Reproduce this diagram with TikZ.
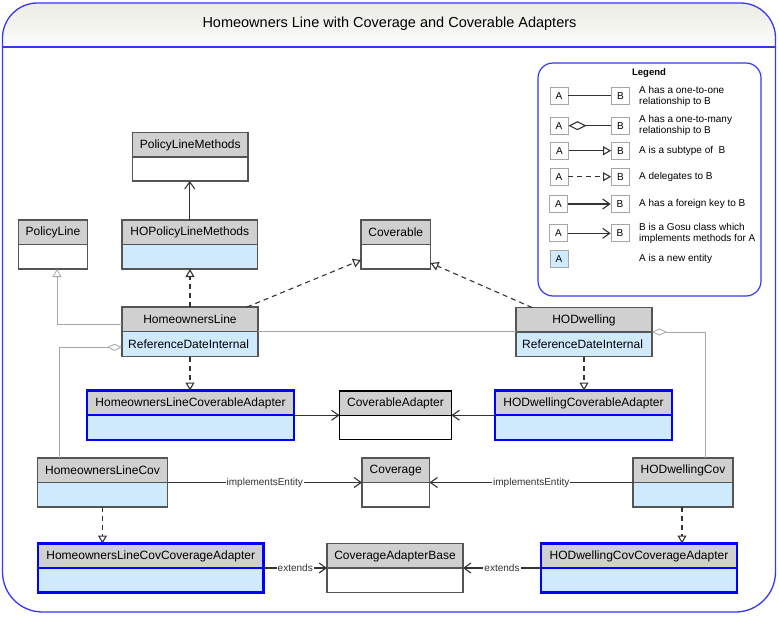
\documentclass[tikz,border=0pt]{standalone}
\usepackage{fontspec}
\setmainfont{Liberation Sans}
\usetikzlibrary{arrows.meta,calc}
\definecolor{hdrgray}{HTML}{D0D0D0}
\definecolor{newblue}{HTML}{CFEAFD}
\definecolor{boxline}{HTML}{555555}
\definecolor{connline}{HTML}{333333}
\definecolor{relgray}{HTML}{A6A6A6}
\definecolor{frameblue}{HTML}{3737F5}
\definecolor{adblue}{HTML}{0000FF}
\definecolor{titletop}{HTML}{ECECE6}
\definecolor{titlebot}{HTML}{FBFBF8}

\tikzset{
  boxtext/.style={font=\fontsize{12}{14}\selectfont, inner sep=0pt, text=black},
  plainbox/.style={draw=boxline, line width=1.2pt},
  adbox/.style={draw=adblue, line width=2.8pt},
  conn/.style={draw=connline, line width=1.1pt},
  dashconn/.style={conn, dash pattern=on 5pt off 4pt},
  relline/.style={draw=relgray, line width=0.8pt},
  tri/.tip={Triangle[open, length=8pt, width=9pt]},
  vee/.tip={Straight Barb[length=7pt, width=10pt]},
  dia/.tip={Diamond[open, length=15pt, width=7pt]},
  legdia/.tip={Diamond[open, length=18pt, width=9pt]},
  lbl/.style={fill=white, inner xsep=1pt, inner ysep=0pt, text=connline, font=\fontsize{10}{12}\selectfont},
  legtext/.style={font=\fontsize{10}{11.6}\selectfont, anchor=west, align=left, inner sep=0pt, text=black},
  legbox/.style={draw=relgray, line width=0.8pt, fill=white, minimum width=18pt, minimum height=17pt, inner sep=0pt, font=\fontsize{10}{12}\selectfont},
}

% #1 body fill, #2 border style, #3 name, #4 x1, #5 y1, #6 x2, #7 y2, #8 title, #9 body text
\newcommand{\umlclass}[9]{%
  \fill[#1] (#4,#5) rectangle (#6,#7);
  \fill[hdrgray] (#4,#5) rectangle (#6,#5+24.5);
  \draw[#2] (#4,#5+24.5) -- (#6,#5+24.5);
  \node[draw, #2, inner sep=0pt, outer sep=0pt, minimum width={(#6-#4)*1pt}, minimum height={(#7-#5)*1pt}, anchor=north west] (#3) at (#4,#5) {};
  \node[boxtext] at ({(#4+#6)/2},#5+12.5) {#8};
  \node[boxtext, anchor=west] at (#4+6,#5+37) {#9};
}

\begin{document}
\begin{tikzpicture}[x=1pt, y=-1pt]
\useasboundingbox (0,0) rectangle (779,616);
\fill[white] (0,0) rectangle (779,616);

% title band
\shade[top color=titletop, bottom color=titlebot] (2.5,47) -- (2.5,38) arc[start angle=180, end angle=90, radius=35pt] -- (740.5,3) arc[start angle=90, end angle=0, radius=35pt] -- (775.5,47) -- cycle;
\draw[frameblue, line width=1.2pt] (2.5,47) -- (775.5,47);
% frame
\draw[frameblue, line width=1.3pt] (2.5,38) arc[start angle=180, end angle=90, radius=35pt] -- (740.5,3) arc[start angle=90, end angle=0, radius=35pt] -- (775.5,572) arc[start angle=0, end angle=-90, radius=40pt] -- (42.5,612) arc[start angle=-90, end angle=-180, radius=40pt] -- cycle;
\node[font=\fontsize{14.5}{17}\selectfont, inner sep=0pt] (title) at (389.5,24) {Homeowners Line with Coverage and Coverable Adapters};

% classes
\umlclass{fill=white}{plainbox}{PLM}{132.5}{132.5}{248}{181}{PolicyLineMethods}{}
\umlclass{fill=white}{plainbox}{PL}{18.5}{220}{87.5}{269}{PolicyLine}{}
\umlclass{fill=newblue}{plainbox}{HOPLM}{122}{220}{257.5}{269}{HOPolicyLineMethods}{}
\umlclass{fill=white}{plainbox}{COV}{361}{220}{430.5}{269}{Coverable}{}
\umlclass{fill=newblue}{plainbox}{HL}{122}{307}{258}{356.5}{HomeownersLine}{ReferenceDateInternal}
\umlclass{fill=newblue}{plainbox}{HD}{516}{307.5}{652}{356.5}{HODwelling}{ReferenceDateInternal}
\umlclass{fill=newblue}{adbox}{HLCA}{87}{390.5}{294}{440}{HomeownersLineCoverableAdapter}{}
\umlclass{fill=white}{plainbox,draw=black}{CA}{339.5}{391}{451.5}{439.5}{CoverableAdapter}{}
\umlclass{fill=newblue}{adbox}{HDCA}{495}{390.5}{672}{440}{HODwellingCoverableAdapter}{}
\umlclass{fill=newblue}{plainbox}{HLC}{37.5}{458}{167.5}{507}{HomeownersLineCov}{}
\umlclass{fill=white}{plainbox}{CVG}{362}{458}{429.5}{507}{Coverage}{}
\umlclass{fill=newblue}{plainbox}{HDC}{633}{458}{733}{507}{HODwellingCov}{}
\umlclass{fill=newblue}{adbox}{HLCCA}{38}{543.5}{263.5}{592.5}{HomeownersLineCovCoverageAdapter}{}
\umlclass{fill=white}{plainbox}{CAB}{327}{543.5}{463}{592.5}{CoverageAdapterBase}{}
\umlclass{fill=newblue}{adbox}{HDCCA}{541}{543.5}{737}{592.5}{HODwellingCovCoverageAdapter}{}

% connectors
\draw[conn, -vee] (HOPLM.north) -- (HOPLM.north |- PLM.south);
\draw[dashconn, -tri] (HL.north) -- (HL.north |- HOPLM.south);
\draw[dashconn, -tri] ([xshift=57pt]HL.north) -- ([yshift=9pt]COV.south west);
\draw[dashconn, -tri] ([xshift=-52pt]HD.north) -- ([yshift=6pt]COV.south east);
\draw[relline, -tri] ([yshift=7.5pt]HL.west) -| ([xshift=4pt]PL.south);
\draw[relline] (HL.east) -- (HL.east -| HD.west);
\draw[relline, dia-] ([yshift=-15.5pt]HL.west) -| ([xshift=21.5pt]HLC.north west);
\draw[relline, dia-] (HD.east) -| ([xshift=72pt]HDC.north west);
\draw[dashconn, -tri] (HL.south) -- (HL.south |- HLCA.north);
\draw[dashconn, -tri] (HD.south) -- (HD.south |- HDCA.north);
\draw[conn, -vee] (HLCA.east) -- (HLCA.east -| CA.west);
\draw[conn, -vee] (HDCA.west) -- (HDCA.west -| CA.east);
\draw[conn, -vee] (HLC.east) -- node[lbl]{implementsEntity} (HLC.east -| CVG.west);
\draw[conn, -vee] (HDC.west) -- node[lbl]{implementsEntity} (HDC.west -| CVG.east);
\draw[dashconn, -tri] (HLC.south) -- (HLC.south |- HLCCA.north);
\draw[dashconn, -tri] ([xshift=-1pt]HDC.south) -- ([xshift=-1pt]HDC.south |- HDCCA.north);
\draw[conn, -vee] (HLCCA.east) -- node[lbl]{extends} (HLCCA.east -| CAB.west);
\draw[conn, -vee] (HDCCA.west) -- node[lbl]{extends} (HDCCA.west -| CAB.east);

% legend
\draw[frameblue, line width=1.2pt, rounded corners=15pt, fill=white] (538,63) rectangle (761,296);
\node[font=\bfseries\fontsize{9.5}{11}\selectfont, inner sep=0pt] (legt) at (649,73.5) {Legend};

\node[legbox] (la1) at (559,95.7) {A};
\node[legbox] (lb1) at (620.5,95.7) {B};
\draw[conn] (la1) -- (lb1);
\node[legtext] (lt1) at (639,96.5) {A has a one-to-one\\relationship to B};

\node[legbox] (la2) at (559,125.7) {A};
\node[legbox] (lb2) at (620.5,125.7) {B};
\draw[conn, legdia-] (la2) -- (lb2);
\node[legtext] (lt2) at (639,125.5) {A has a one-to-many\\relationship to B};

\node[legbox] (la3) at (559.5,150.7) {A};
\node[legbox] (lb3) at (620.5,150.7) {B};
\draw[conn, -tri] (la3) -- (lb3);
\node[legtext] (lt3) at (639,150.7) {A is a subtype of\ \ B};

\node[legbox] (la4) at (559,176.7) {A};
\node[legbox] (lb4) at (620.5,176.7) {B};
\draw[dashconn, -tri] (la4) -- (lb4);
\node[legtext] (lt4) at (639,176.7) {A delegates to B};

\node[legbox] (la5) at (558.5,204) {A};
\node[legbox] (lb5) at (620,204) {B};
\draw[conn, -vee] (la5) -- (lb5);
\node[legtext] (lt5) at (639,204) {A has a foreign key to B};

\node[legbox] (la6) at (558.5,233.3) {A};
\node[legbox] (lb6) at (620,233.3) {B};
\draw[conn, -vee] (la6) -- (lb6);
\node[legtext] (lt6) at (639,233.3) {B is a Gosu class which\\implements methods for A};

\node[legbox, fill=newblue] (la7) at (559,259.3) {A};
\node[legtext] (lt7) at (639,259.3) {A is a new entity};
\end{tikzpicture}
\end{document}
